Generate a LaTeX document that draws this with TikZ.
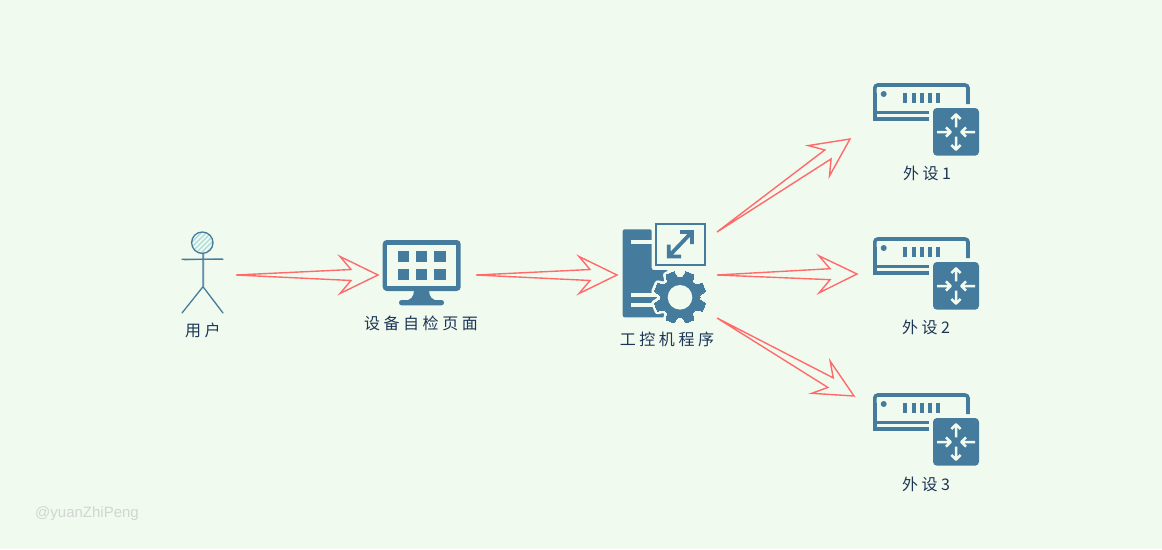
\documentclass[tikz,border=0pt]{standalone}
\usepackage{fontspec}
\usepackage{xcolor}
\usepackage{tikz}
\usetikzlibrary{positioning,calc}
\newfontfamily\cjk[LetterSpace=22]{Noto Sans CJK SC}
\setmainfont{Liberation Sans}
\definecolor{PageBg}{HTML}{F1FAEE}
\definecolor{IconBlue}{HTML}{457B9D}
\definecolor{HatchBlue}{HTML}{A8DADC}
\definecolor{TextNavy}{HTML}{1D3557}
\definecolor{ArrowRed}{HTML}{FF6B6B}
\definecolor{MarkGrey}{HTML}{D2D6D2}

\tikzset{
routerpic/.pic={
  \draw[IconBlue,line width=3.6pt,rounded corners=3pt] (2.8,21) -- (2.8,2) -- (96,2) -- (96,21);
  \fill[IconBlue] (1,10) rectangle (4.6,37.5);
  \fill[IconBlue] (1,27.5) rectangle (57,30.5);
  \fill[IconBlue] (1,34) rectangle (57,37.5);
  \fill[IconBlue] (11.7,11) circle (3);
  \foreach \x in {31,40,48,56,64} \fill[IconBlue] (\x,9.7) rectangle (\x+4,20.3);
  \fill[IconBlue,rounded corners=4pt] (61,25) rectangle (107,72.7);
  \foreach \r in {0,180} {
    \draw[PageBg,line width=2.5pt,line join=round,shift={(84,49)},rotate=\r] (0,-4.7) -- (0,-17.5) (-4.7,-13) -- (0,-17.7) -- (4.7,-13);
  }
  \foreach \r in {90,270} {
    \draw[PageBg,line width=2.5pt,line join=round,shift={(84,49)},rotate=\r] (0,-19) -- (0,-6) (-4.7,-10) -- (0,-5.3) -- (4.7,-10);
  }
}}
\begin{document}
\begin{tikzpicture}[
x=1pt,y=-1pt,
port/.style={rectangle,inner sep=0pt,outer sep=0pt},
lbl/.style={rectangle,inner sep=0pt,minimum height=16pt,text=TextNavy,font=\fontsize{16}{17}\selectfont\cjk},
hollow/.style={draw=ArrowRed,line width=1.4pt,line join=miter,to path={
  -- ($(\tikztotarget)!27.5pt!11.5:(\tikztostart)$)
  -- ($(\tikztotarget)!42.3pt!26:(\tikztostart)$)
  -- (\tikztotarget)
  -- ($(\tikztotarget)!42.3pt!-26:(\tikztostart)$)
  -- ($(\tikztotarget)!27.5pt!-11.5:(\tikztostart)$)
  -- cycle}},
stick/.style={draw=IconBlue,line width=1.3pt,line cap=round}
]
\fill[PageBg] (0,0) rectangle (1162,549);
\useasboundingbox (0,0) rectangle (1162,549);

% user
\node[port,minimum width=66pt,minimum height=76pt] (user) at (203,275) {};
\begin{scope}
\clip (202.3,242.7) circle (10.7);
\foreach \d in {-16,-11,...,16} \draw[HatchBlue,line width=1.2pt] (202.3+\d-12,242.7+12) -- (202.3+\d+12,242.7-12);
\end{scope}
\draw[stick] (202.3,242.7) circle (10.7);
\draw[stick] (203,253.5) -- (203,286.7) (182,259.3) -- (223,259.3) (182,313) -- (203,286.7) -- (223,313);
\draw[stick,opacity=.45] (203.8,253.5) -- (203.8,286) (184,260) -- (222,258.6);

% monitor
\node[port,minimum width=98pt,minimum height=61pt] (page) at (427,275) {};
\fill[IconBlue,rounded corners=4pt] (382.7,240) rectangle (460.7,291);
\fill[PageBg] (387.3,245) rectangle (456,286);
\foreach \x in {398,416,434.3} \foreach \y in {250.7,268.7} \fill[IconBlue] (\x,\y) rectangle (\x+11.3,\y+11.2);
\fill[IconBlue,rounded corners=2.5pt] (399,300) rectangle (444,305.3);
\fill[IconBlue] (414,290) .. controls (414,297) and (411,300) .. (404,301) -- (439,301) .. controls (432,300) and (429,297) .. (429,290) -- cycle;

% control program
\node[port,minimum width=100pt,minimum height=86pt] (ctrl) at (667,275) {};
\fill[IconBlue,rounded corners=2pt] (622.7,229.3) -- (651.7,229.3) -- (651.7,270) -- (668,270) -- (668,317.3) -- (622.7,317.3) -- cycle;
\fill[PageBg] (631,240) rectangle (651.7,244);
\fill[PageBg] (631,292.7) rectangle (658,296.7);
\fill[PageBg] (631,303.3) rectangle (658,307.3);
\draw[IconBlue,fill=PageBg,line width=1.8pt] (655.9,223.6) rectangle (704.8,264.8);
\draw[IconBlue,line width=3.8pt,line join=miter] (680,232) -- (692,232) -- (692,244) (668.8,244.5) -- (668.8,256.4) -- (681,256.4) (670,255) -- (691,233);
\begin{scope}[shift={(680,297.3)}]
\foreach \c/\w in {PageBg/6,IconBlue/0} {
  \foreach \a in {22.5,67.5,...,337.5}
    \draw[\c,fill=\c,line width=\w pt,line join=round,rotate=\a] (18,-5.8) -- (26,-4.3) -- (26,4.3) -- (18,5.8) -- cycle;
  \draw[\c,fill=\c,line width=\w pt] (0,0) circle (20);
}
\fill[PageBg] (0,0) circle (12.3);
\end{scope}

% devices
\node[port,minimum width=128pt,minimum height=74pt] (dev1) at (914,119) {};
\node[port,minimum width=122pt,minimum height=74pt] (dev2) at (918,274) {};
\node[port,minimum width=125pt,minimum height=74pt] (dev3) at (916.5,429) {};
\pic at (872,83) {routerpic};
\pic at (872,237) {routerpic};
\pic at (872,393) {routerpic};
\coordinate (dev1in) at ($(dev1.west)+(0,20)$);
\coordinate (dev3in) at ($(dev3.west)+(0,-33)$);

\node[lbl,below=9pt of user] (userlbl) {用户};
\node[lbl,below=10pt of page,xshift=-6pt] (pagelbl) {设备自检页面};
\node[lbl,below=13pt of ctrl] (ctrllbl) {工控机程序};
\node[lbl,below=9pt of dev1,xshift=13pt] (dev1lbl) {外设1};
\node[lbl,below=8pt of dev2,xshift=8pt] (dev2lbl) {外设2};
\node[lbl,below=10pt of dev3,xshift=9.5pt] (dev3lbl) {外设3};

\draw[hollow] (user.east) to (page.west);
\draw[hollow] (page.east) to (ctrl.west);
\draw[hollow] (ctrl.north east) to (dev1in);
\draw[hollow] (ctrl.east) to (dev2.west);
\draw[hollow] (ctrl.south east) to (dev3in);

\node[inner sep=0pt,text=MarkGrey,font=\fontsize{15}{16}\selectfont] (mark) at (87,513.5) {@yuanZhiPeng};
\end{tikzpicture}
\end{document}
